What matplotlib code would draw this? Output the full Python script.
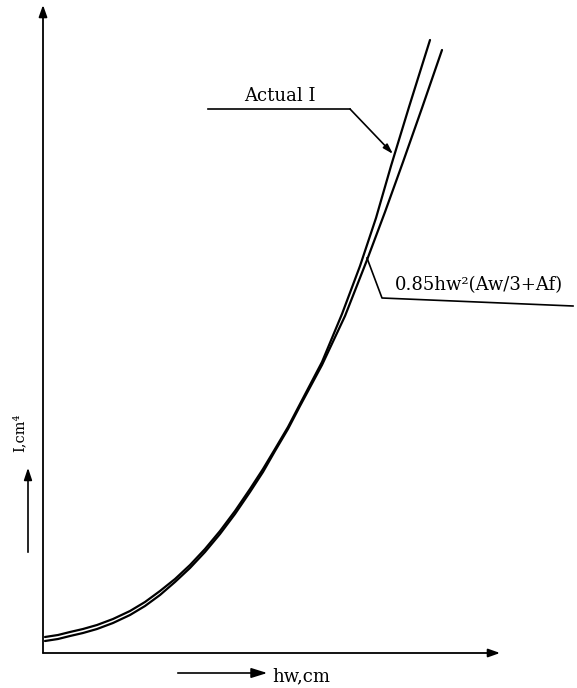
import matplotlib.pyplot as plt
from matplotlib.patches import FancyArrowPatch

# values (relative units, origin at the axes corner)
hw_actual = [2, 15, 27, 40, 54, 70, 87, 102, 117, 132, 147, 162, 177, 192, 207, 220,
             232, 245, 257, 279, 299, 317, 333, 348, 366, 387]
I_actual = [16, 18, 21, 24, 28, 34, 42, 51, 62, 74, 88, 104, 122, 142, 164, 184,
            204, 226, 249, 291, 339, 387, 435, 487, 546, 613]

hw_approx = [2, 15, 27, 40, 54, 70, 87, 102, 117, 132, 147, 162, 177, 192, 207, 220,
             232, 245, 257, 279, 302, 324, 342, 360, 379, 399]
I_approx = [12, 14, 17, 20, 24, 30, 38, 47, 58, 71, 85, 101, 119, 139, 161, 181,
            202, 224, 247, 288, 337, 393, 441, 491, 545, 603]

label_actual = "Actual I"
label_approx = "0.85hw\u00b2(Aw/3+Af)"
xlabel = "hw,cm"
ylabel = "I,cm\u2074"

W, H = 577, 688
plt.rcParams['font.family'] = ['DejaVu Serif']

fig = plt.figure(figsize=(W / 100, H / 100), dpi=100)
fig.patch.set_facecolor('white')

# axes box: x from 43 to 500 px, y from 653 up to 5 px
ax = fig.add_axes([43 / W, (H - 653) / H, (500 - 43) / W, (653 - 5) / H])
ax.set_xlim(0, 457)
ax.set_ylim(0, 648)
for s in ax.spines.values():
    s.set_visible(False)
ax.set_xticks([])
ax.set_yticks([])
ax.patch.set_alpha(0)

# axis lines with arrow heads
arrow_kw = dict(arrowstyle='-|>,head_length=0.7,head_width=0.25', color='black', lw=1.3,
                shrinkA=0, shrinkB=0)
ax.annotate('', xy=(1, 0), xytext=(0, 0), xycoords='axes fraction', arrowprops=arrow_kw)
ax.annotate('', xy=(0, 1), xytext=(0, 0), xycoords='axes fraction', arrowprops=arrow_kw)

# curves
ax.plot(hw_actual, I_actual, color='black', lw=1.6, solid_capstyle='round',
        solid_joinstyle='round')
ax.plot(hw_approx, I_approx, color='black', lw=1.6, solid_capstyle='round',
        solid_joinstyle='round')

# leader for "Actual I"
ax.plot([165, 307], [544, 544], color='black', lw=1.2)
ax.annotate('', xy=(350, 499), xytext=(307, 544),
            arrowprops=dict(arrowstyle='-|>,head_length=0.6,head_width=0.18',
                            color='black', lw=1.2, shrinkA=0, shrinkB=0))
ax.text(237, 557, label_actual, fontsize=13, ha='center', va='center')

# leader for the approximation
ax.plot([324, 339, 530], [395, 355, 347], color='black', lw=1.2, clip_on=False)
ax.text(352, 368, label_approx, fontsize=13, ha='left', va='center', clip_on=False)

# axis labels with small arrows (figure pixels)
fig.text(20 / W, 1 - 433 / H, ylabel, fontsize=10.5, rotation=90, ha='center', va='center')
fig.add_artist(FancyArrowPatch(
    (28 / W, 1 - 555 / H), (28 / W, 1 - 465 / H), transform=fig.transFigure,
    arrowstyle='-|>,head_length=0.6,head_width=0.2', color='black', lw=1.2,
    mutation_scale=12))
fig.add_artist(FancyArrowPatch(
    (175 / W, 1 - 673 / H), (270 / W, 1 - 673 / H), transform=fig.transFigure,
    arrowstyle='-|>,head_length=0.8,head_width=0.25', color='black', lw=1.2,
    mutation_scale=12))
fig.text(272 / W, 1 - 676 / H, xlabel, fontsize=13, ha='left', va='center')

fig.savefig('out.png', dpi=100, facecolor='white')
